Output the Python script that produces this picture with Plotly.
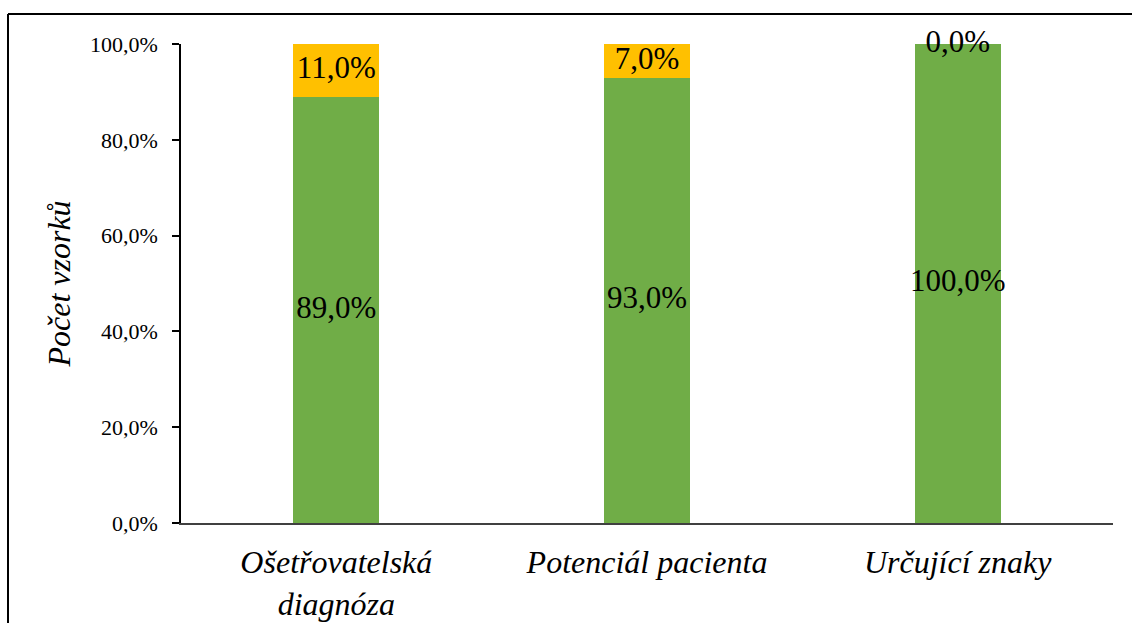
import plotly.graph_objects as go

# Data
categories = ["Ošetřovatelská<br>diagnóza", "Potenciál pacienta", "Určující znaky"]
green_vals = [0.89, 0.93, 1.00]
gold_vals = [0.11, 0.07, 0.00]
tick_vals = [0, 0.2, 0.4, 0.6, 0.8, 1.0]

W, H = 1132, 623
L, R, T, B = 181, 19, 44, 100

GREEN = "#70AD47"
GOLD = "#FFC000"
SERIF = "Liberation Serif"

fig = go.Figure()
fig.add_trace(go.Bar(x=categories, y=green_vals, marker_color=GREEN,
                     marker_line_width=0, width=0.277, hoverinfo="skip"))
fig.add_trace(go.Bar(x=categories, y=gold_vals, marker_color=GOLD,
                     marker_line_width=0, width=0.277, hoverinfo="skip"))

# Value labels centred in each segment
def fmt(v):
    return f"{v*100:.1f}".replace(".", ",") + "%"

fig.add_trace(go.Scatter(
    x=categories, y=[v / 2 for v in green_vals], mode="text",
    text=[fmt(v) for v in green_vals], cliponaxis=False,
    textfont=dict(family=SERIF, size=31, color="black"), hoverinfo="skip"))
fig.add_trace(go.Scatter(
    x=categories, y=[g + v / 2 for g, v in zip(green_vals, gold_vals)], mode="text",
    text=[fmt(v) for v in gold_vals], cliponaxis=False,
    textfont=dict(family=SERIF, size=31, color="black"), hoverinfo="skip"))

# Outer frame (pixel coords converted to paper coords)
pw, ph = W - L - R, H - T - B
def px(x):
    return (x - L) / pw
def py(y):
    return 1 - (y - T) / ph

fig.add_shape(type="line", xref="paper", yref="paper",
              x0=px(8), x1=px(W + 5), y0=py(14), y1=py(14),
              line=dict(color="black", width=2))
fig.add_shape(type="line", xref="paper", yref="paper",
              x0=px(8), x1=px(8), y0=py(14), y1=py(H + 5),
              line=dict(color="black", width=2))

fig.update_layout(
    width=W, height=H,
    margin=dict(l=L, r=R, t=T, b=B, autoexpand=False),
    barmode="stack",
    showlegend=False,
    plot_bgcolor="white",
    paper_bgcolor="white",
    separators=",.",
    font=dict(family=SERIF, color="black"),
    xaxis=dict(
        tickfont=dict(family=SERIF, size=32, style="italic", color="black"),
        showline=True, linecolor="#404040", linewidth=1.5,
        ticks="", showgrid=False, ticklabelstandoff=10, automargin=False,
    ),
    yaxis=dict(
        range=[0, 1], tickvals=tick_vals, tickformat=".1%",
        tickfont=dict(family=SERIF, size=22, color="black"),
        showline=True, linecolor="black", linewidth=1.5,
        ticks="outside", ticklen=7, tickcolor="black", tickwidth=1.5,
        showgrid=False, zeroline=False, ticklabelstandoff=10, automargin=False,
        title=dict(text="Počet vzorků",
                   font=dict(family=SERIF, size=32, style="italic", color="black"),
                   standoff=10),
    ),
)

fig.write_html("out.html")
